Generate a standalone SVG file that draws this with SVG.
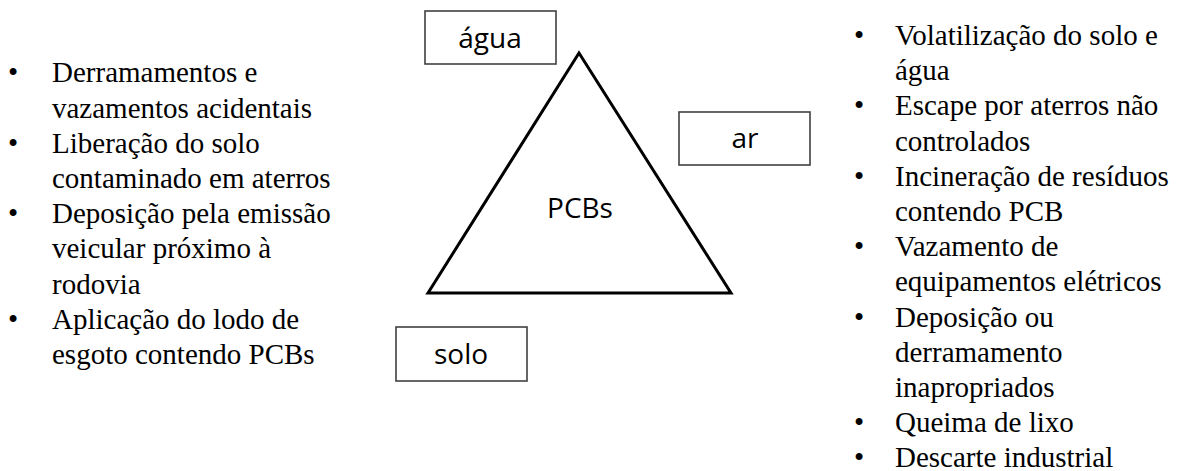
<svg xmlns="http://www.w3.org/2000/svg" width="1181" height="471" viewBox="0 0 1181 471">
<style>
.list{font-family:"Liberation Serif","Times New Roman",serif;font-size:29px;fill:#000}
.lbl{font-family:"Open Sans","Noto Sans","Liberation Sans",sans-serif;font-size:28px;fill:#000;text-anchor:middle}
.box{fill:#fff;stroke:#404040;stroke-width:1.6}
</style>
<rect width="1181" height="471" fill="#fff"/>
<g id="list-left" class="list">
<text x="8" y="82.3">•</text>
<text x="52" y="82.3">Derramamentos e</text>
<text x="52" y="117.5">vazamentos acidentais</text>
<text x="8" y="152.7">•</text>
<text x="52" y="152.7">Liberação do solo</text>
<text x="52" y="187.9">contaminado em aterros</text>
<text x="8" y="223.1">•</text>
<text x="52" y="223.1">Deposição pela emissão</text>
<text x="52" y="258.3">veicular próximo à</text>
<text x="52" y="293.5">rodovia</text>
<text x="8" y="328.7">•</text>
<text x="52" y="328.7">Aplicação do lodo de</text>
<text x="52" y="363.9">esgoto contendo PCBs</text>
</g>
<g id="list-right" class="list">
<text x="854" y="45">•</text>
<text x="895" y="45">Volatilização do solo e</text>
<text x="895" y="80.2">água</text>
<text x="854" y="115.4">•</text>
<text x="895" y="115.4">Escape por aterros não</text>
<text x="895" y="150.6">controlados</text>
<text x="854" y="185.8">•</text>
<text x="895" y="185.8">Incineração de resíduos</text>
<text x="895" y="221">contendo PCB</text>
<text x="854" y="256.2">•</text>
<text x="895" y="256.2">Vazamento de</text>
<text x="895" y="291.4">equipamentos elétricos</text>
<text x="854" y="326.6">•</text>
<text x="895" y="326.6">Deposição ou</text>
<text x="895" y="361.8">derramamento</text>
<text x="895" y="397">inapropriados</text>
<text x="854" y="432.2">•</text>
<text x="895" y="432.2">Queima de lixo</text>
<text x="854" y="466.5">•</text>
<text x="895" y="466.5">Descarte industrial</text>
</g>
<g id="pcbs">
<polygon points="579,53 428,293 731,293" fill="none" stroke="#000" stroke-width="3" stroke-linejoin="miter"/>
<text class="lbl" x="580" y="218">PCBs</text>
</g>
<g id="agua">
<rect class="box" x="425" y="11" width="131" height="53"/>
<text class="lbl" x="490" y="48">água</text>
</g>
<g id="ar">
<rect class="box" x="679" y="112" width="131" height="53"/>
<text class="lbl" x="745" y="148">ar</text>
</g>
<g id="solo">
<rect class="box" x="396" y="327" width="131" height="54"/>
<text class="lbl" x="461" y="364">solo</text>
</g>
<g id="connectors"></g>
</svg>
